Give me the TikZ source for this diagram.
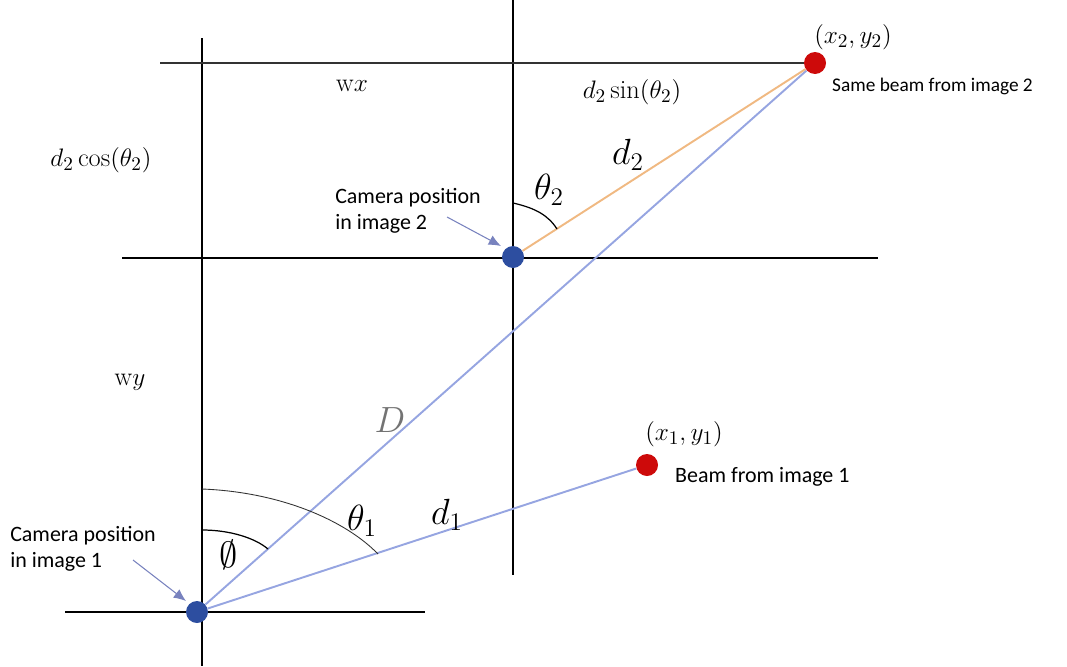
\documentclass[tikz,border=0pt]{standalone}
\usepackage{fontspec}
\newfontfamily\calibri{Carlito}
\usetikzlibrary{arrows.meta}
\definecolor{camblue}{RGB}{45,78,160}
\definecolor{beamred}{RGB}{205,10,10}
\definecolor{raylight}{RGB}{150,165,225}
\definecolor{rayorange}{RGB}{240,185,130}
\definecolor{pointer}{RGB}{120,130,190}

\begin{document}
\begin{tikzpicture}[x=0.02cm,y=-0.02cm,
  dot/.style={circle,inner sep=0pt,minimum size=22*0.02cm},
  note/.style={font=\calibri\fontsize{12.5}{15}\selectfont,align=left},
  smallnote/.style={font=\calibri\fontsize{11}{13.5}\selectfont,anchor=west},
  mathlbl/.style={font=\fontsize{15}{17}\selectfont},
  biglbl/.style={font=\fontsize{20}{22}\selectfont},
  axis/.style={line width=1.2pt},
  pointer arrow/.style={pointer,line width=0.6pt,-{Latex[length=7pt,width=6pt]}}]
  \useasboundingbox (0,0) rectangle (1067,666);
  \draw[axis] (202,38) -- (202,666);
  \draw[axis] (513,0) -- (513,575);
  \draw[line width=0.6pt,black!80] (160,63) -- (808,63);
  \draw[axis] (122,258) -- (878,258);
  \draw[axis] (65,612) -- (425,612);
  \node[dot,fill=camblue] (cam1) at (197,612) {};
  \node[dot,fill=camblue] (cam2) at (513,257) {};
  \node[dot,fill=beamred] (beam2) at (815,63) {};
  \node[dot,fill=beamred] (beam1) at (647,465) {};
  \draw[raylight,line width=1.1pt] (cam1) -- (beam2);
  \draw[raylight,line width=1.1pt] (cam1) -- (beam1);
  \draw[rayorange,line width=1.1pt] (cam2) -- (beam2);
  \draw[line width=0.7pt] (202,530) .. controls (230,530) and (255,538) .. (268,549);
  \draw[line width=0.5pt,black!80] (202,489) .. controls (280,492) and (345,520) .. (378,554);
  \draw[line width=0.7pt] (513,203) .. controls (535,208) and (548,215) .. (557,229);
  \node[mathlbl] (wx) at (352,86) {$\mathrm{w}x$};
  \node[mathlbl] (wy) at (130,382) {$\mathrm{w}y$};
  \node[mathlbl] (sinlbl) at (632,92) {$d_2\sin(\theta_2)$};
  \node[mathlbl] (coslbl) at (101,160) {$d_2\cos(\theta_2)$};
  \node[mathlbl] (p2) at (853,37) {$(x_2,y_2)$};
  \node[mathlbl] (p1) at (684,434) {$(x_1,y_1)$};
  \node[biglbl,black!55] (Dlbl) at (390,420) {$D$};
  \node[biglbl] (d2lbl) at (628,155) {$d_2$};
  \node[biglbl] (t2lbl) at (549,190) {$\theta_2$};
  \node[biglbl] (d1lbl) at (447,515) {$d_1$};
  \node[biglbl] (t1lbl) at (362,521) {$\theta_1$};
  \node[biglbl] (philbl) at (229,555) {$\emptyset$};
  \node[note] (cam2note) at (408,211) {Camera position\\in image 2};
  \node[note] (cam1note) at (83,549) {Camera position\\in image 1};
  \node[smallnote] (beam2note) at (826,86) {Same beam from image 2};
  \node[note,anchor=west] (beam1note) at (669,477) {Beam from image 1};
  \coordinate (tip2) at (501,246);
  \coordinate (tip1) at (186,601);
  \draw[pointer arrow] (447,217) -- (tip2);
  \draw[pointer arrow] (133,560) -- (tip1);
\end{tikzpicture}
\end{document}
